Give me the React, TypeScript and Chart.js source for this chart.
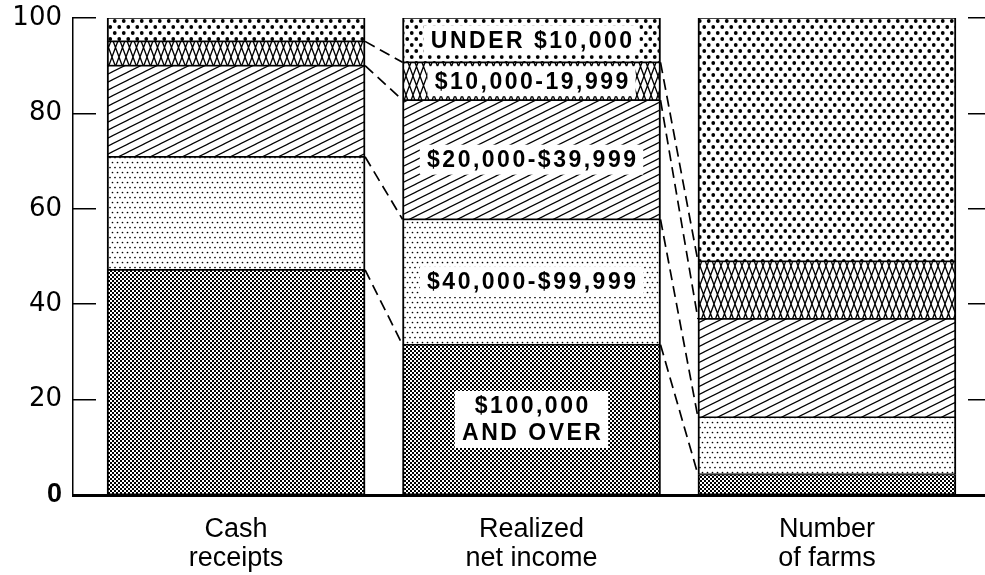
import React, { useEffect, useRef } from 'react';
import { Chart, registerables } from 'chart.js';

Chart.register(...registerables);

// ---------- data ----------
const CATEGORIES: string[][] = [
  ['Cash', 'receipts'],
  ['Realized', 'net income'],
  ['Number', 'of farms'],
];
const SERIES_NAMES = [
  '$100,000 and over',
  '$40,000-$99,999',
  '$20,000-$39,999',
  '$10,000-19,999',
  'Under $10,000',
];
const OVER_100K = [47.2, 31.5, 4.3];
const FROM_40K = [23.7, 26.3, 12.0];
const FROM_20K = [19.1, 25.0, 20.6];
const FROM_10K = [5.1, 7.9, 12.1];
const UNDER_10K = [4.9, 9.3, 51.0];
const SEGMENT_LABELS: string[][] = [
  ['$100,000', 'AND OVER'],
  ['$40,000-$99,999'],
  ['$20,000-$39,999'],
  ['$10,000-19,999'],
  ['UNDER $10,000'],
];
const Y_TICKS = [0, 20, 40, 60, 80, 100];
const LABELED_BAR = 1;

const SERIES = [OVER_100K, FROM_40K, FROM_20K, FROM_10K, UNDER_10K];

// ---------- patterns ----------
function tile(w: number, h: number, draw: (c: CanvasRenderingContext2D) => void) {
  const t = document.createElement('canvas');
  t.width = w;
  t.height = h;
  const c = t.getContext('2d')!;
  c.fillStyle = '#fff';
  c.fillRect(0, 0, w, h);
  c.fillStyle = '#000';
  c.strokeStyle = '#000';
  draw(c);
  return t;
}

function dots(c: CanvasRenderingContext2D, w: number, h: number, pts: number[][], r: number) {
  for (const [px, py] of pts) {
    for (const dx of [-w, 0, w]) {
      for (const dy of [-h, 0, h]) {
        c.beginPath();
        c.arc(px + dx, py + dy, r, 0, Math.PI * 2);
        c.fill();
      }
    }
  }
}

function makePatterns(ctx: CanvasRenderingContext2D): CanvasPattern[] {
  const checker = tile(4, 4, (c) => {
    c.fillRect(0, 0, 2, 2);
    c.fillRect(2, 2, 2, 2);
  });
  const stipple = tile(10, 10, (c) => {
    dots(c, 10, 10, [[2.5, 2.5], [7.5, 2.5], [0, 7.5], [5, 7.5]], 0.85);
  });
  const hatch = tile(16, 8, (c) => {
    c.lineWidth = 1.2;
    for (const k of [-1, 0, 1]) {
      c.beginPath();
      c.moveTo(-4, 8 + 2 + 8 * k);
      c.lineTo(20, 8 - 10 + 8 * k);
      c.stroke();
    }
  });
  const cross = tile(7, 19, (c) => {
    c.lineWidth = 1.3;
    c.beginPath();
    c.moveTo(-3.5, -9.5);
    c.lineTo(10.5, 28.5);
    c.moveTo(10.5, -9.5);
    c.lineTo(-3.5, 28.5);
    c.stroke();
  });
  const bigDots = tile(9, 12, (c) => {
    dots(c, 9, 12, [[2.25, 3], [6.75, 9]], 1.9);
  });
  return [checker, stipple, hatch, cross, bigDots].map((t) => ctx.createPattern(t, 'repeat')!);
}

// ---------- plugins ----------
const connectorPlugin = {
  id: 'connectors',
  afterDatasetsDraw(chart: any) {
    const ctx: CanvasRenderingContext2D = chart.ctx;
    const y = chart.scales.y;
    const meta = chart.getDatasetMeta(0);
    ctx.save();
    ctx.setLineDash([11, 6]);
    ctx.lineWidth = 1.7;
    ctx.strokeStyle = '#000';
    for (let j = 0; j < CATEGORIES.length - 1; j++) {
      const a: any = meta.data[j];
      const b: any = meta.data[j + 1];
      if (!a || !b) continue;
      const x1 = a.x + a.width / 2;
      const x2 = b.x - b.width / 2;
      let cumA = 0;
      let cumB = 0;
      for (let k = 0; k < SERIES.length - 1; k++) {
        cumA += SERIES[k][j];
        cumB += SERIES[k][j + 1];
        ctx.beginPath();
        ctx.moveTo(x1, y.getPixelForValue(cumA));
        ctx.lineTo(x2, y.getPixelForValue(cumB));
        ctx.stroke();
      }
    }
    ctx.restore();
  },
};

const labelPlugin = {
  id: 'segLabels',
  afterDatasetsDraw(chart: any) {
    const ctx: CanvasRenderingContext2D = chart.ctx;
    ctx.save();
    ctx.font = 'bold 23px "Liberation Sans", Arial, sans-serif';
    (ctx as any).letterSpacing = '2.5px';
    ctx.textAlign = 'center';
    ctx.textBaseline = 'middle';
    SEGMENT_LABELS.forEach((lines, di) => {
      const el: any = chart.getDatasetMeta(di).data[LABELED_BAR];
      if (!el) return;
      const cx = el.x;
      const cy = (el.y + el.base) / 2;
      const lh = 27;
      const tw = Math.max(...lines.map((l) => ctx.measureText(l).width));
      const bw = tw + 12;
      const segH = Math.abs(el.base - el.y) - 3;
      const bh = Math.min(lines.length * lh + 3, segH);
      ctx.fillStyle = '#fff';
      ctx.fillRect(cx - bw / 2, cy - bh / 2, bw, bh);
      ctx.fillStyle = '#000';
      lines.forEach((l, i) => {
        ctx.fillText(l, cx + 1.25, cy + (i - (lines.length - 1) / 2) * lh + 1);
      });
    });
    ctx.restore();
  },
};

export default function App() {
  const ref = useRef<HTMLCanvasElement>(null);

  useEffect(() => {
    const canvas = ref.current!;
    const ctx = canvas.getContext('2d')!;
    const patterns = makePatterns(ctx);

    const chart = new Chart(canvas, {
      type: 'bar',
      data: {
        datasets: SERIES.map((arr, i) => ({
          label: SERIES_NAMES[i],
          data: arr.map((v, j) => ({ x: j, y: v })),
          backgroundColor: patterns[i],
          borderColor: '#000',
          borderWidth: { top: 1.2, bottom: 1.2, left: 2, right: 2 },
          borderSkipped: false,
          barThickness: 258,
        })) as any,
      },
      options: {
        responsive: false,
        animation: false,
        layout: { padding: { top: 18, left: 0, right: 0, bottom: 0 } },
        plugins: {
          legend: { display: false },
          tooltip: { enabled: false },
        },
        scales: {
          x: {
            type: 'linear',
            position: 'bottom',
            min: -0.552,
            max: 2.535,
            offset: false,
            stacked: true,
            afterBuildTicks: (s: any) => {
              s.ticks = CATEGORIES.map((_, i) => ({ value: i }));
            },
            afterFit: (s: any) => {
              s.height = 80;
              s.paddingLeft = 0;
              s.paddingRight = 0;
            },
            border: { display: true, color: '#000', width: 3 },
            grid: { display: false, drawTicks: false, offset: false },
            ticks: {
              autoSkip: false,
              maxRotation: 0,
              padding: 21,
              color: '#000',
              font: { family: '"Liberation Sans", Arial, sans-serif', size: 27, lineHeight: 1.04 },
              callback: (_v: any, i: number) => CATEGORIES[i],
            },
          },
          y: {
            type: 'linear',
            position: 'left',
            min: 0,
            max: 100,
            stacked: true,
            afterBuildTicks: (s: any) => {
              s.ticks = Y_TICKS.map((v) => ({ value: v }));
            },
            afterFit: (s: any) => {
              s.width = 73;
              s.paddingTop = 0;
              s.paddingBottom = 0;
            },
            border: { display: true, color: '#000', width: 1.5 },
            grid: { drawOnChartArea: false, drawTicks: true, tickLength: -23, color: '#000', lineWidth: 1.5 },
            ticks: {
              padding: 34,
              color: '#000',
              font: (c: any) =>
                c.tick && c.tick.value === 0
                  ? { family: '"Liberation Sans", Arial, sans-serif', size: 27, weight: 'bold' }
                  : { family: '"DejaVu Sans", sans-serif', size: 26 },
            },
          },
          y2: {
            type: 'linear',
            position: 'right',
            min: 0,
            max: 100,
            afterBuildTicks: (s: any) => {
              s.ticks = Y_TICKS.map((v) => ({ value: v }));
            },
            afterFit: (s: any) => {
              s.width = 0;
              s.paddingTop = 0;
              s.paddingBottom = 0;
            },
            border: { display: false },
            grid: { drawOnChartArea: false, drawTicks: true, tickLength: -17, color: '#000', lineWidth: 1.5 },
            ticks: { display: false },
          },
        },
      } as any,
      plugins: [connectorPlugin, labelPlugin],
    });

    return () => chart.destroy();
  }, []);

  return (
    <canvas
      ref={ref}
      width={985}
      height={575}
      style={{ position: 'fixed', left: 0, top: 0, display: 'block', background: '#fff' }}
    />
  );
}
